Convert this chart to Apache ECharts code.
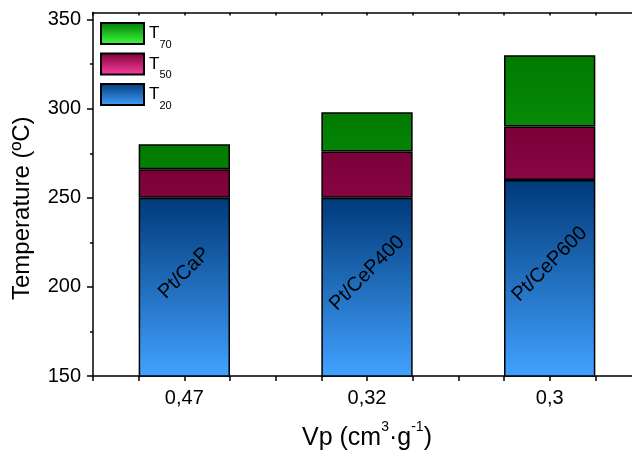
<!DOCTYPE html>
<html><head><meta charset="utf-8">
<script src="https://cdn.jsdelivr.net/npm/echarts@6/dist/echarts.min.js"></script>
<style>html,body{margin:0;padding:0;background:#fff}#c{width:632px;height:450px}</style>
</head><body><div id="c"></div>
<script>
const categories = ['0,47', '0,32', '0,3'];
const samples = ['Pt/CaP', 'Pt/CeP400', 'Pt/CeP600'];
const T20 = [250, 250, 260];
const T50 = [266, 276, 290];
const T70 = [280, 298, 330];
const yTicks = [150, 200, 250, 300, 350];
const yMinorTicks = [175, 225, 275, 325];

const FONT = "Arial, 'Liberation Sans', sans-serif";
function hex(c) { return [1, 3, 5].map(i => parseInt(c.substr(i, 2), 16)); }
function mix(a, b, t) { const A = hex(a), B = hex(b); return 'rgb(' + A.map((v, i) => Math.round(v + (B[i] - v) * t)).join(',') + ')'; }
function grad(top, bottom) { return new echarts.graphic.LinearGradient(0, 0, 0, 1, [{ offset: 0, color: top }, { offset: 1, color: bottom }]); }
const pal = { T20: ['#003A7A', '#42A2FF'], T50: ['#7A0038', '#FF40A0'], T70: ['#007A00', '#42FF42'] };
function segData(lo, hi, p) {
  return hi.map((h, i) => ({
    value: h - (lo ? lo[i] : 0),
    itemStyle: { color: lo ? grad(p[0], mix(p[0], p[1], (h - lo[i]) / h)) : grad(p[0], p[1]) }
  }));
}
const line = { color: '#000', width: 1.5 };
const border = { borderColor: '#000', borderWidth: 1.5 };

const chart = echarts.init(document.getElementById('c'), null, { renderer: 'canvas' });
chart.setOption({
  animation: false,
  backgroundColor: '#fff',
  textStyle: { fontFamily: FONT },
  grid: { left: 93, top: 12.5, width: 548, height: 363.5, containLabel: false, outerBoundsMode: 'none' },
  legend: {
    data: ['T70', 'T50', 'T20'],
    orient: 'vertical', left: 100, top: 22, padding: 0,
    itemWidth: 43, itemHeight: 21, itemGap: 2.5, icon: 'rect',
    formatter: n => '{t|T}{s|' + n.slice(1) + '}',
    textStyle: {
      color: '#000', fontFamily: FONT,
      rich: {
        t: { fontSize: 17, lineHeight: 33, fontFamily: FONT, color: '#000' },
        s: { fontSize: 11, lineHeight: 11, verticalAlign: 'bottom', fontFamily: FONT, color: '#000' }
      }
    }
  },
  xAxis: [{
    type: 'category', data: categories, position: 'bottom',
    axisLine: { show: true, onZero: false, lineStyle: line },
    axisTick: { show: false },
    axisLabel: { fontSize: 20, color: '#000', margin: 12, fontFamily: FONT },
    splitLine: { show: false },
    name: 'Vp (cm{sup|3}·g{sup|-1})', nameLocation: 'middle', nameGap: 44,
    nameTextStyle: { fontSize: 25, lineHeight: 36, color: '#000', fontFamily: FONT,
      rich: { sup: { fontSize: 14, lineHeight: 14, verticalAlign: 'top', color: '#000', fontFamily: FONT } } }
  }, {
    type: 'value', min: 0.5, max: 3.5, interval: 0.25, position: 'bottom',
    axisLine: { show: false },
    axisTick: { show: true, length: 5, lineStyle: line },
    axisLabel: { show: false }, splitLine: { show: false }
  }, {
    type: 'value', min: 0.5, max: 3.5, interval: 0.25, position: 'top',
    axisLine: { show: true, onZero: false, lineStyle: line },
    axisTick: { show: true, inside: true, length: 3, lineStyle: line },
    axisLabel: { show: false }, splitLine: { show: false }
  }],
  yAxis: [{
    type: 'value', min: 150, max: 354, position: 'left',
    axisLine: { show: true, onZero: false, lineStyle: line },
    axisTick: { show: true, customValues: yTicks, length: 6, lineStyle: line },
    axisLabel: { customValues: yTicks, fontSize: 20, color: '#000', margin: 12, fontFamily: FONT },
    splitLine: { show: false },
    name: 'Temperature (ºC)', nameLocation: 'middle', nameGap: 59,
    nameTextStyle: { fontSize: 24, color: '#000', fontFamily: FONT, padding: [0, 28, 0, 0] }
  }, {
    type: 'value', min: 150, max: 354, position: 'left',
    axisLine: { show: false },
    axisTick: { show: true, customValues: yMinorTicks, length: 3, lineStyle: line },
    axisLabel: { show: false }, splitLine: { show: false }
  }],
  series: [{
    name: 'T20', type: 'bar', stack: 'T', barWidth: '50%', xAxisIndex: 0, yAxisIndex: 0,
    itemStyle: Object.assign({ color: grad(pal.T20[0], pal.T20[1]) }, border),
    label: { show: true, position: 'inside', rotate: 45, offset: [10, -10], formatter: p => samples[p.dataIndex], fontSize: 20, color: '#000', fontFamily: FONT },
    data: segData(null, T20, pal.T20)
  }, {
    name: 'T50', type: 'bar', stack: 'T', barWidth: '50%', xAxisIndex: 0, yAxisIndex: 0,
    itemStyle: Object.assign({ color: grad(pal.T50[0], pal.T50[1]) }, border),
    data: segData(T20, T50, pal.T50)
  }, {
    name: 'T70', type: 'bar', stack: 'T', barWidth: '50%', xAxisIndex: 0, yAxisIndex: 0,
    itemStyle: Object.assign({ color: grad(pal.T70[0], pal.T70[1]) }, border),
    data: segData(T50, T70, pal.T70)
  }]
});
</script></body></html>
